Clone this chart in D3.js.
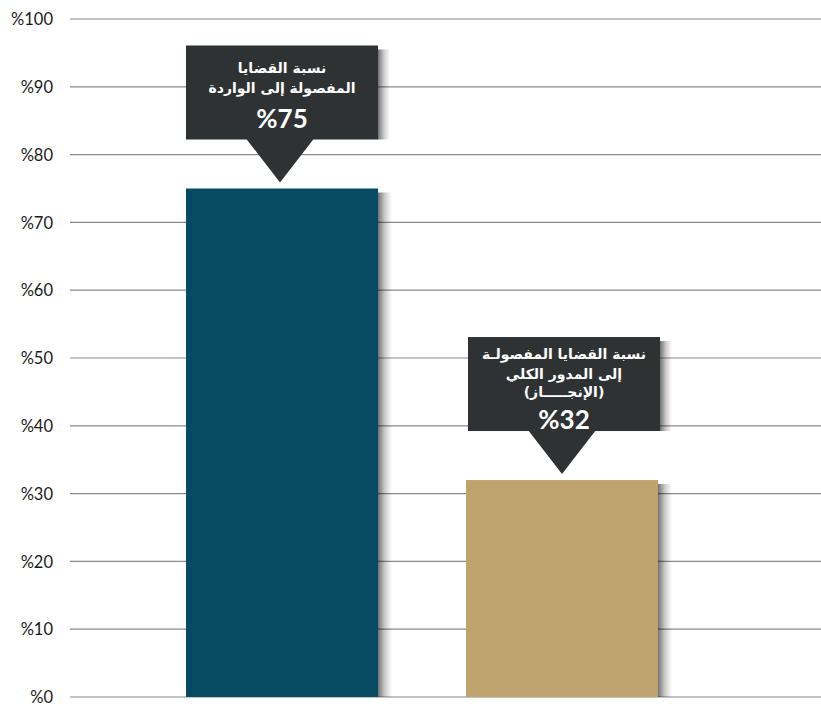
<!DOCTYPE html>
<html>
<head>
<meta charset="utf-8">
<script src="https://cdn.jsdelivr.net/npm/d3@7/dist/d3.min.js"></script>
<style>
  html, body { margin: 0; padding: 0; background: #ffffff; }
  svg { display: block; }
</style>
</head>
<body>
<svg id="chart" width="821" height="707"></svg>
<script>
// Chart data
const categories = ["ratio_incoming", "ratio_total"];
const values = [75, 32];
const barColors = ["#074b62", "#bfa36c"];
const calloutLines = [
  ["نسبة القضايا", "المفصولة إلى الواردة"],
  ["نسبة القضايا المفصولـة", "إلى المدور الكلي", "(الإنجـــــاز)"]
];
const calloutValues = ["%75", "%32"];
const yTicks = [0, 10, 20, 30, 40, 50, 60, 70, 80, 90, 100];
const yTickLabels = ["%0", "%10", "%20", "%30", "%40", "%50", "%60", "%70", "%80", "%90", "%100"];

const svg = d3.select("#chart");
const W = 821;

const y = d3.scaleLinear().domain([0, 100]).range([697, 19]);
const x = d3.scaleBand().domain(categories).range([46, 798])
  .paddingInner(88 / 280).paddingOuter(0.5);

const defs = svg.append("defs");
const grad = defs.append("linearGradient").attr("id", "shade")
  .attr("x1", "0").attr("x2", "1").attr("y1", "0").attr("y2", "0");
grad.append("stop").attr("offset", "0").attr("stop-color", "#000").attr("stop-opacity", 0.55);
grad.append("stop").attr("offset", "0.5").attr("stop-color", "#000").attr("stop-opacity", 0.2);
grad.append("stop").attr("offset", "1").attr("stop-color", "#000").attr("stop-opacity", 0);

// Grid lines
svg.append("g").selectAll("line").data(yTicks).join("line")
  .attr("x1", 70).attr("x2", W)
  .attr("y1", d => y(d)).attr("y2", d => y(d))
  .attr("stroke", "#8a8a8a").attr("stroke-width", 1.2);

// Y axis labels
const yAxis = d3.axisLeft(y).tickValues(yTicks).tickSize(0)
  .tickFormat((d, i) => yTickLabels[i]);
const ax = svg.append("g").attr("transform", "translate(53,0)").call(yAxis);
ax.select(".domain").remove();
ax.selectAll("text")
  .attr("font-family", "Lato, 'Open Sans', sans-serif")
  .attr("font-size", 16.5).attr("fill", "#1a1a1a").attr("x", 0).attr("dy", "0.35em");

// Bar shadows
svg.append("g").selectAll("rect").data(values).join("rect")
  .attr("x", (d, i) => x(categories[i]) + x.bandwidth())
  .attr("y", d => y(d) + 4)
  .attr("width", 14)
  .attr("height", d => y(0) - y(d) - 4)
  .attr("fill", "url(#shade)");

// Bars
svg.append("g").selectAll("rect").data(values).join("rect")
  .attr("x", (d, i) => x(categories[i]))
  .attr("y", d => y(d))
  .attr("width", x.bandwidth())
  .attr("height", d => y(0) - y(d))
  .attr("fill", (d, i) => barColors[i]);

// Callouts above each bar
const boxH = 94, tipGap = 6, tipH = 43, tipHalf = 34;
// baselines of the text lines, measured from the box top
const lineOffsets = [[27, 47], [22, 42, 60]];
const numberOffsets = [82, 92];
values.forEach((v, i) => {
  const bx = x(categories[i]) + (i === 1 ? 2 : 0);
  const bw = x.bandwidth();
  const tipY = y(v) - tipGap;
  const boxBottom = tipY - tipH;
  const boxTop = boxBottom - boxH;
  const cx = bx + bw / 2 - 2;
  const g = svg.append("g");
  g.append("rect").attr("x", bx + bw).attr("y", boxTop + 4)
    .attr("width", 12).attr("height", boxH - 4).attr("fill", "url(#shade)");
  g.append("rect").attr("x", bx).attr("y", boxTop).attr("width", bw).attr("height", boxH)
    .attr("fill", "#2f3233");
  g.append("path")
    .attr("d", `M${cx - tipHalf},${boxBottom - 1}L${cx + tipHalf},${boxBottom - 1}L${cx},${tipY}Z`)
    .attr("fill", "#2f3233");
  calloutLines[i].forEach((t, k) => {
    g.append("text").attr("x", bx + bw / 2).attr("y", boxTop + lineOffsets[i][k])
      .attr("text-anchor", "middle").attr("direction", "rtl")
      .attr("font-family", "'DejaVu Sans', sans-serif").attr("font-weight", "bold")
      .attr("font-size", 14).attr("fill", "#ffffff").text(t);
  });
  g.append("text").attr("x", bx + bw / 2).attr("y", boxTop + numberOffsets[i])
    .attr("text-anchor", "middle")
    .attr("font-family", "Lato, 'Open Sans', sans-serif").attr("font-weight", "bold")
    .attr("font-size", 26).attr("fill", "#ffffff").text(calloutValues[i]);
});
</script>
</body>
</html>
